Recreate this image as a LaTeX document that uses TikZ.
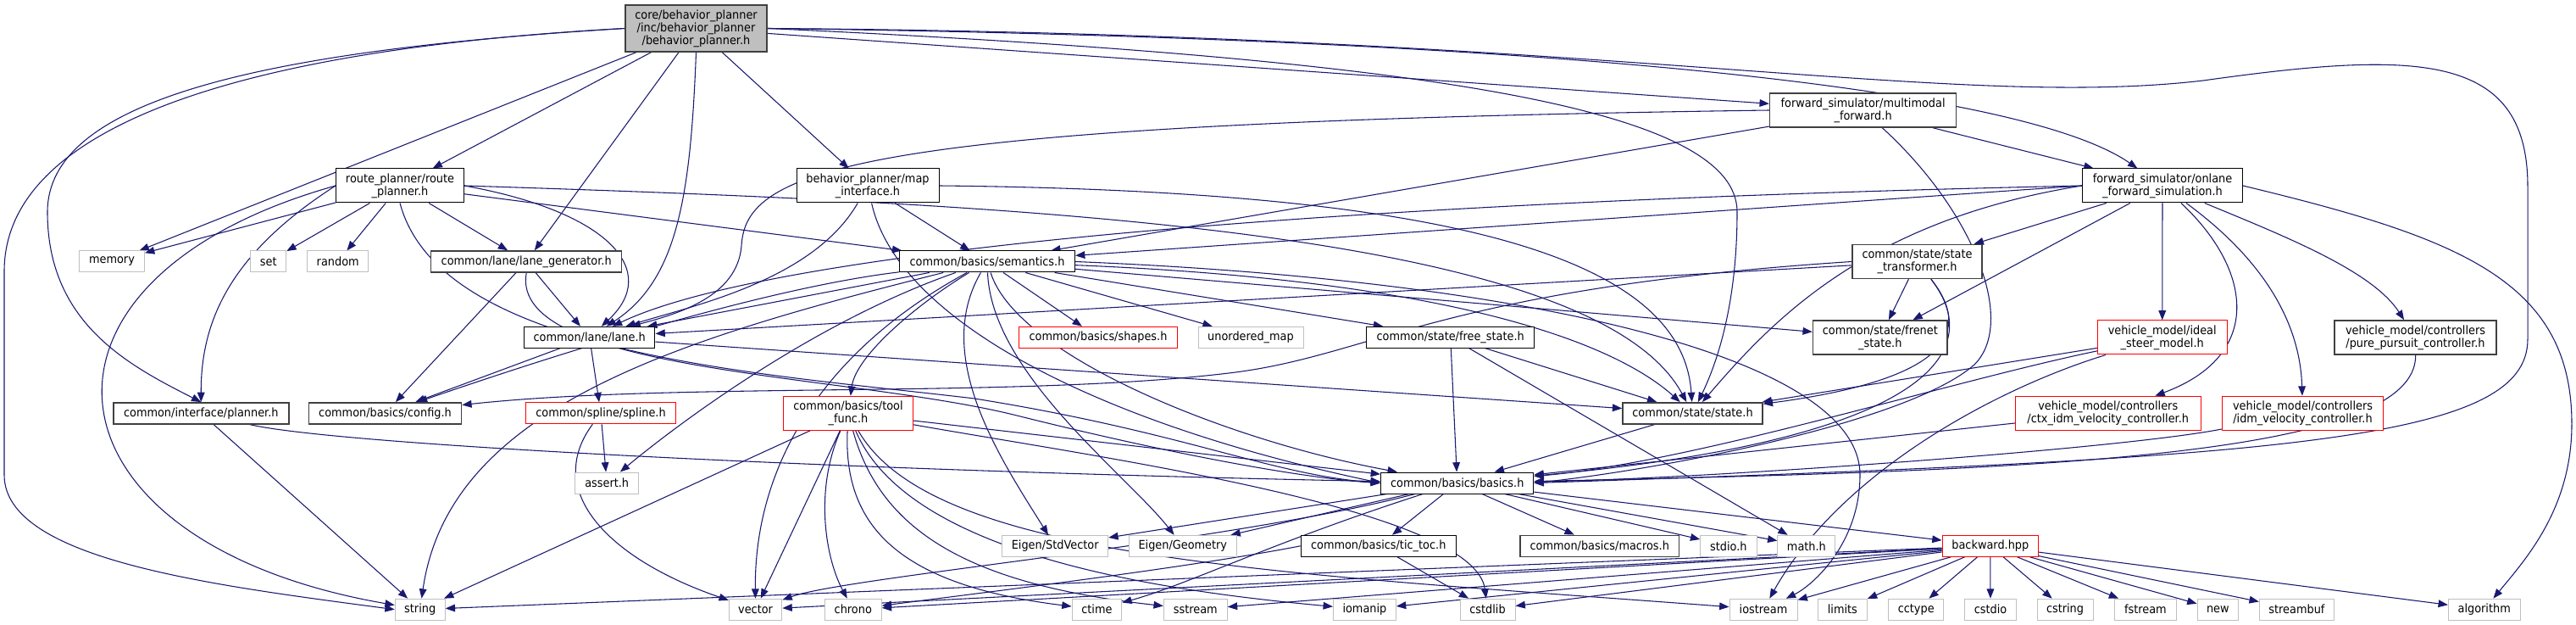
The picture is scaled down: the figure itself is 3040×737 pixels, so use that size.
\documentclass[tikz,border=0pt]{standalone}
\usepackage{fontspec}
\setmainfont{DejaVu Sans}[FakeStretch=0.92]
\usetikzlibrary{arrows.meta,backgrounds}
\definecolor{edgeblue}{HTML}{191970}
\definecolor{docgray}{HTML}{404040}
\definecolor{sysgray}{HTML}{BFBFBF}
\begin{document}
\begin{tikzpicture}[x=0.75pt, y=-0.75pt,
  font=\fontsize{10.5}{11.3}\selectfont,
  docfile/.style={draw=black, line width=0.75pt, fill=white, align=center, inner sep=1pt},
  grayfile/.style={docfile, draw=docgray, line width=1.1pt},
  redfile/.style={docfile, draw=red},
  sysfile/.style={docfile, draw=sysgray},
  mainfile/.style={docfile, draw=docgray, fill=sysgray, line width=1.1pt},
  sz/.style 2 args={minimum width=#1*0.75pt, minimum height=#2*0.75pt},
  inc/.style={draw=edgeblue, line width=0.8pt, -{Triangle[length=8.5pt,width=6.5pt]}}]
\useasboundingbox (0,0) rectangle (3040,737);

% first row
\node[mainfile, sz={167}{55}] (bp) at (821.5,33.5) {core/behavior\_planner\\/inc/behavior\_planner\\/behavior\_planner.h};
\node[grayfile, sz={220}{40}] (multi) at (2198.6,130) {forward\_simulator/multimodal\\\_forward.h};
\node[docfile, sz={151}{40}] (route) at (472,219) {route\_planner/route\\\_planner.h};
\node[docfile, sz={168}{40}] (mapif) at (1024,219) {behavior\_planner/map\\\_interface.h};
\node[docfile, sz={189}{40}] (onlane) at (2552,219) {forward\_simulator/onlane\\\_forward\_simulation.h};

\node[sysfile, sz={77}{25}] (memory) at (132,308.5) {memory};
\node[sysfile, sz={42}{25}] (set) at (316.8,308.5) {set};
\node[sysfile, sz={72}{25}] (random) at (398.7,308.5) {random};
\node[grayfile, sz={225}{25}] (lanegen) at (621.2,308.5) {common/lane/lane\_generator.h};
\node[docfile, sz={207}{25}] (semantics) at (1165,308.5) {common/basics/semantics.h};
\node[grayfile, sz={153}{40}] (transformer) at (2262.5,308.5) {common/state/state\\\_transformer.h};

\node[docfile, sz={154.5}{25}] (lane) at (695.7,397.8) {common/lane/lane.h};
\node[redfile, sz={187}{25}] (shapes) at (1296,397.8) {common/basics/shapes.h};
\node[sysfile, sz={124}{25}] (unordered) at (1476,397.8) {unordered\_map};
\node[docfile, sz={198}{25}] (freestate) at (1711.7,397.8) {common/state/free\_state.h};
\node[grayfile, sz={158.5}{40}] (frenet) at (2218.8,398) {common/state/frenet\\\_state.h};
\node[redfile, sz={152.7}{40}] (ideal) at (2551.7,398) {vehicle\_model/ideal\\\_steer\_model.h};
\node[grayfile, sz={191}{40}] (pure) at (2850.5,398) {vehicle\_model/controllers\\/pure\_pursuit\_controller.h};

\node[grayfile, sz={207}{25}] (planner) at (237.3,487.3) {common/interface/planner.h};
\node[grayfile, sz={180}{25}] (config) at (454.5,487.3) {common/basics/config.h};
\node[redfile, sz={177}{25}] (spline) at (709,487.3) {common/spline/spline.h};
\node[redfile, sz={153}{40}] (toolfunc) at (1001,487.2) {common/basics/tool\\\_func.h};
\node[grayfile, sz={165}{25}] (state) at (1997.5,487.3) {common/state/state.h};
\node[redfile, sz={218.6}{40}] (ctxidm) at (2487.7,487.2) {vehicle\_model/controllers\\/ctx\_idm\_velocity\_controller.h};
\node[redfile, sz={190.5}{40}] (idm) at (2717.5,487.2) {vehicle\_model/controllers\\/idm\_velocity\_controller.h};

\node[sysfile, sz={75}{25}] (assert) at (716.2,569.5) {assert.h};
\node[docfile, sz={180.4}{25}] (basics) at (1719.7,569.5) {common/basics/basics.h};

\node[sysfile, sz={125}{25}] (stdvector) at (1245.2,643.8) {Eigen/StdVector};
\node[sysfile, sz={126.5}{25}] (geometry) at (1395.8,643.8) {Eigen/Geometry};
\node[docfile, sz={183}{25}] (tictoc) at (1626.7,643.8) {common/basics/tic\_toc.h};
\node[grayfile, sz={187.6}{25}] (macros) at (1887.7,643.8) {common/basics/macros.h};
\node[sysfile, sz={66.3}{25}] (stdio) at (2039.9,643.8) {stdio.h};
\node[sysfile, sz={68}{25}] (math) at (2131.9,643.8) {math.h};
\node[redfile, sz={113.5}{25}] (backward) at (2348.8,643.8) {backward.hpp};

\node[sysfile, sz={59}{25}] (string) at (495.7,718.7) {string};
\node[sysfile, sz={62.6}{25}] (vector) at (891.6,718.7) {vector};
\node[sysfile, sz={67}{25}] (chrono) at (1006.8,718.7) {chrono};
\node[sysfile, sz={58.7}{25}] (ctime) at (1294.4,718.7) {ctime};
\node[sysfile, sz={75}{25}] (sstream) at (1410.8,718.7) {sstream};
\node[sysfile, sz={74}{25}] (iomanip) at (1610.4,718.7) {iomanip};
\node[sysfile, sz={65}{25}] (cstdlib) at (1755.5,718.7) {cstdlib};
\node[sysfile, sz={80}{25}] (iostream) at (2081,718.7) {iostream};
\node[sysfile, sz={58}{25}] (limits) at (2174.4,718.7) {limits};
\node[sysfile, sz={65}{25}] (cctype) at (2261.2,718.7) {cctype};
\node[sysfile, sz={61.6}{25}] (cstdio) at (2349,718.7) {cstdio};
\node[sysfile, sz={66}{25}] (cstring) at (2437,718.7) {cstring};
\node[sysfile, sz={72.3}{25}] (fstream) at (2531.9,718.7) {fstream};
\node[sysfile, sz={48.6}{25}] (new) at (2617.3,718.7) {new};
\node[sysfile, sz={88.2}{25}] (streambuf) at (2710.4,718.7) {streambuf};
\node[sysfile, sz={84.7}{25}] (algorithm) at (2931.7,718.7) {algorithm};

\begin{pgfonlayer}{background}
\fill[white] (0,0) rectangle (3040,737);
% behavior_planner.h
\draw[inc] (bp.west) .. controls (250,60) and (5,160) .. (5,320) -- (5,560) .. controls (5,660) and (250,690) .. (string.west);
\draw[inc] (bp.west) .. controls (300,60) and (56,120) .. (56,250) .. controls (56,380) and (150,430) .. (planner.north);
\draw[inc] (bp) -- (memory);
\draw[inc] (bp) -- (route);
\draw[inc] (bp) -- (lanegen);
\draw[inc] (bp.south) .. controls (815,230) and (800,330) .. (lane);
\draw[inc] (bp) -- (mapif);
\draw[inc] (bp) -- (multi);
\draw[inc] (bp.east) .. controls (1800,45) and (2380,100) .. (onlane);
\draw[inc] (bp.east) .. controls (1900,40) and (2300,130) .. (2600,95) .. controls (2850,60) and (2983,60) .. (2983,220) -- (2983,400) .. controls (2983,520) and (2700,540) .. (basics.east);
\draw[inc] (bp.east) .. controls (1700,70) and (2050,130) .. (2050,250) .. controls (2050,350) and (2030,420) .. (state);
% route_planner.h
\draw[inc] (route) -- (memory);
\draw[inc] (route) -- (set);
\draw[inc] (route) -- (random);
\draw[inc] (route) -- (lanegen);
\draw[inc] (route.east) .. controls (720,250) and (780,320) .. (lane);
\draw[inc] (route) -- (semantics);
\draw[inc] (route.east) .. controls (1200,240) and (1880,270) .. (state);
\draw[inc] (route.west) .. controls (0,330) and (40,640) .. (string);
\draw[inc] (route.west) .. controls (270,300) and (237,380) .. (planner);
\draw[inc] (route.south) .. controls (520,420) and (900,440) .. (1150,470) .. controls (1400,510) and (1500,560) .. (basics.west);
% lane_generator.h
\draw[inc] (lanegen) -- (lane);
\draw[inc] (lanegen) -- (config);
\draw[inc] (lanegen.south) .. controls (600,440) and (1000,440) .. (1200,490) .. controls (1400,540) and (1550,565) .. (basics.west);
% map_interface.h
\draw[inc] (mapif) -- (semantics);
\draw[inc] (mapif) .. controls (960,330) and (820,360) .. (lane);
\draw[inc] (mapif.east) .. controls (1700,225) and (1985,300) .. (state);
\draw[inc] (mapif) .. controls (1060,380) and (1300,500) .. (basics.west);
% multimodal_forward.h
\draw[inc] (multi.west) .. controls (1000,145) and (880,200) .. (875,290) .. controls (870,350) and (800,370) .. (lane);
\draw[inc] (multi) -- (semantics);
\draw[inc] (multi) -- (onlane);
\draw[inc] (multi) .. controls (2330,250) and (2380,380) .. (2330,430) .. controls (2250,500) and (1950,555) .. (basics.east);
% onlane_forward_simulation.h
\draw[inc] (onlane.west) .. controls (1500,240) and (900,300) .. (lane);
\draw[inc] (onlane.west) -- (semantics);
\draw[inc] (onlane) -- (transformer);
\draw[inc] (onlane) -- (frenet);
\draw[inc] (onlane.west) .. controls (2200,260) and (2090,380) .. (state);
\draw[inc] (onlane) -- (ideal);
\draw[inc] (onlane) .. controls (2660,320) and (2670,420) .. (ctxidm);
\draw[inc] (onlane) .. controls (2690,320) and (2715,400) .. (idm);
\draw[inc] (onlane) .. controls (2700,280) and (2800,320) .. (pure);
\draw[inc] (onlane.east) .. controls (2900,280) and (3035,330) .. (3035,500) .. controls (3035,600) and (2980,660) .. (algorithm);
% semantics.h
\draw[inc] (semantics) -- (lane);
\draw[inc] (semantics) .. controls (900,340) and (650,420) .. (config);
\draw[inc] (semantics) .. controls (800,400) and (530,480) .. (string);
\draw[inc] (semantics) .. controls (960,420) and (890,560) .. (vector);
\draw[inc] (semantics) .. controls (960,380) and (800,500) .. (assert);
\draw[inc] (semantics) .. controls (1080,360) and (1010,420) .. (toolfunc);
\draw[inc] (semantics) -- (shapes);
\draw[inc] (semantics) -- (unordered);
\draw[inc] (semantics) -- (freestate);
\draw[inc] (semantics) -- (frenet);
\draw[inc] (semantics) .. controls (1700,330) and (1900,400) .. (state);
\draw[inc] (semantics) .. controls (1200,420) and (1450,520) .. (basics);
\draw[inc] (semantics) .. controls (1100,420) and (1180,540) .. (stdvector);
\draw[inc] (semantics) .. controls (1170,440) and (1330,560) .. (geometry);
\draw[inc] (semantics.east) .. controls (1800,330) and (2195,420) .. (2195,560) .. controls (2195,640) and (2140,690) .. (iostream);
% lane.h, spline.h, planner.h
\draw[inc] (lane) -- (config);
\draw[inc] (lane) -- (spline);
\draw[inc] (lane) -- (state);
\draw[inc] (spline) -- (assert);
\draw[inc] (spline) .. controls (640,580) and (720,660) .. (vector);
\draw[inc] (planner) -- (string);
\draw[inc] (planner) .. controls (400,525) and (1000,555) .. (basics);
% tool_func.h
\draw[inc] (toolfunc) -- (string);
\draw[inc] (toolfunc) -- (vector);
\draw[inc] (toolfunc) .. controls (960,580) and (975,660) .. (chrono);
\draw[inc] (toolfunc) .. controls (995,620) and (1060,690) .. (ctime);
\draw[inc] (toolfunc) .. controls (1040,630) and (1150,690) .. (sstream);
\draw[inc] (toolfunc) .. controls (1070,650) and (1350,695) .. (iomanip);
\draw[inc] (toolfunc) .. controls (1100,660) and (1500,675) .. (iostream);
\draw[inc] (toolfunc) .. controls (1300,540) and (1740,600) .. (cstdlib);
\draw[inc] (toolfunc) -- (basics);
% state headers
\draw[inc] (freestate) -- (basics);
\draw[inc] (freestate) -- (state);
\draw[inc] (freestate) -- (math);
\draw[inc] (transformer) -- (lane);
\draw[inc] (transformer.west) .. controls (1700,340) and (1620,420) .. (1450,440) .. controls (1200,470) and (800,450) .. (config);
\draw[inc] (transformer) -- (frenet);
\draw[inc] (transformer) .. controls (2335,400) and (2280,450) .. (state);
\draw[inc] (transformer) .. controls (2350,420) and (2260,520) .. (basics);
\draw[inc] (state) -- (basics);
% vehicle_model
\draw[inc] (ideal) -- (state);
\draw[inc] (ideal) .. controls (2300,450) and (2000,545) .. (basics);
\draw[inc] (ideal) .. controls (2350,460) and (2170,560) .. (iostream);
\draw[inc] (ctxidm) -- (basics);
\draw[inc] (idm) .. controls (2500,530) and (2000,565) .. (basics);
\draw[inc] (pure) .. controls (2852,540) and (2400,555) .. (basics);
% basics.h
\draw[inc] (basics) -- (tictoc);
\draw[inc] (basics) -- (macros);
\draw[inc] (basics) -- (stdio);
\draw[inc] (basics) -- (math);
\draw[inc] (basics) -- (backward);
\draw[inc] (basics) -- (stdvector);
\draw[inc] (basics) -- (geometry);
\draw[inc] (basics) .. controls (1500,640) and (1400,690) .. (ctime);
\draw[inc] (basics) .. controls (1450,640) and (1000,680) .. (vector);
\draw[inc] (tictoc) -- (cstdlib);
\draw[inc] (tictoc.west) .. controls (1400,670) and (1150,700) .. (chrono);
% backward.hpp
\draw[inc] (backward) -- (string);
\draw[inc] (backward) -- (vector);
\draw[inc] (backward) -- (chrono);
\draw[inc] (backward) -- (sstream);
\draw[inc] (backward) -- (iomanip);
\draw[inc] (backward) -- (cstdlib);
\draw[inc] (backward) -- (iostream);
\draw[inc] (backward) -- (limits);
\draw[inc] (backward) -- (cctype);
\draw[inc] (backward) -- (cstdio);
\draw[inc] (backward) -- (cstring);
\draw[inc] (backward) -- (fstream);
\draw[inc] (backward) -- (new);
\draw[inc] (backward) -- (streambuf);
\draw[inc] (backward) -- (algorithm);
\end{pgfonlayer}
\end{tikzpicture}
\end{document}
